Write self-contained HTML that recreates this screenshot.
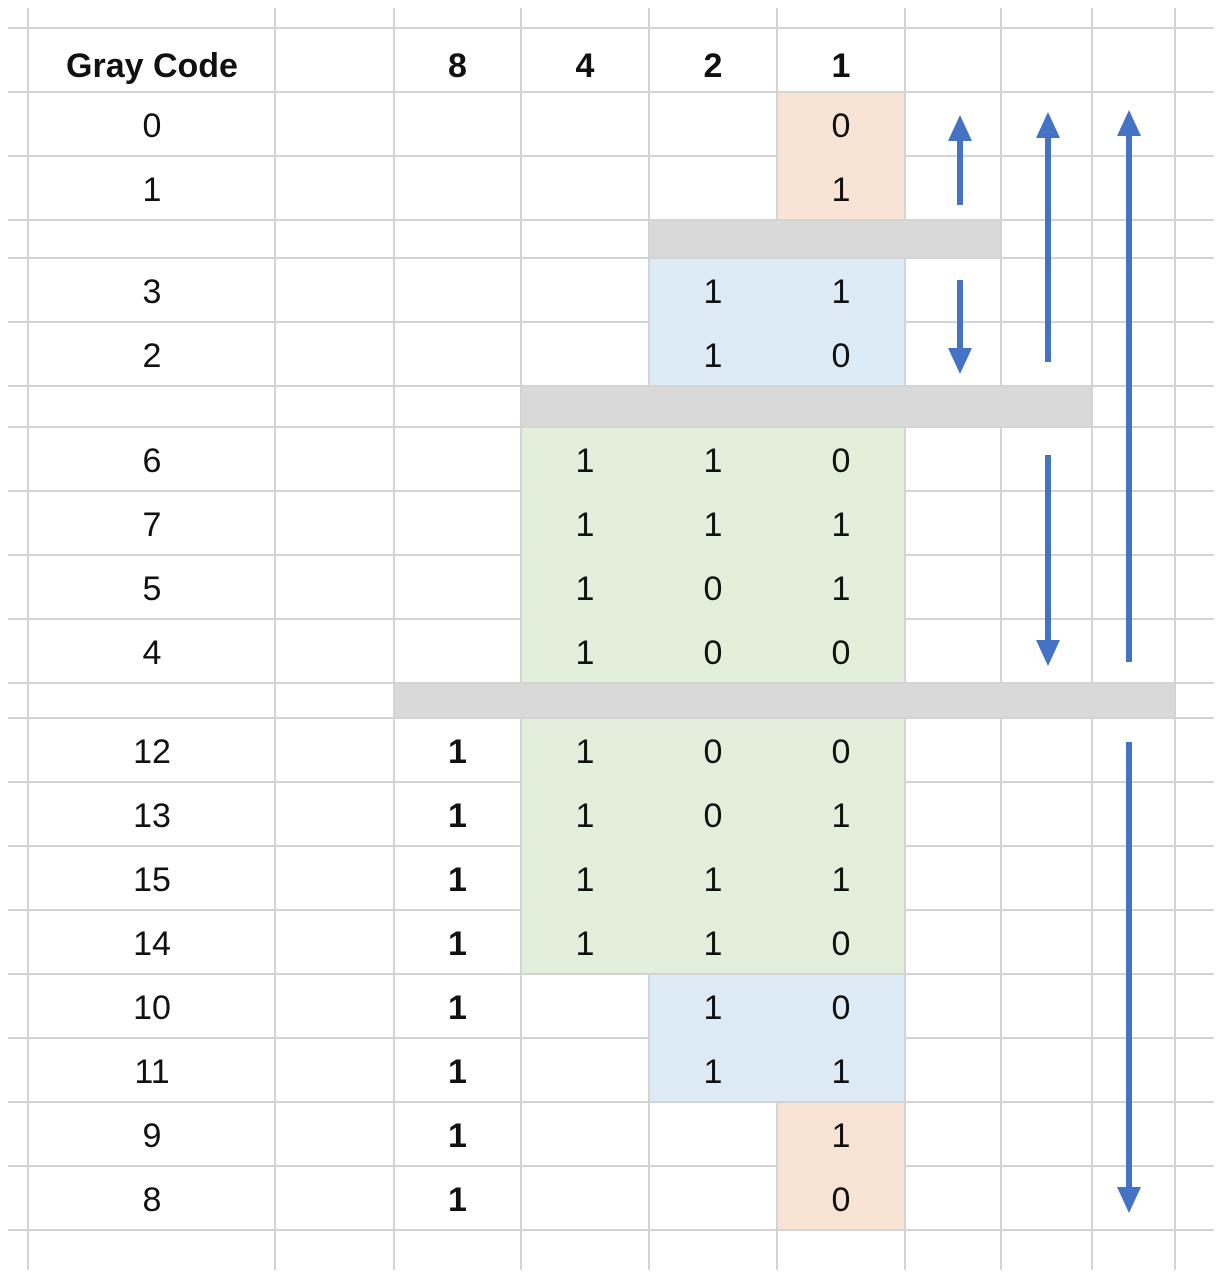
<!DOCTYPE html>
<html><head><meta charset="utf-8"><style>
html,body{margin:0;padding:0;background:#fff;}
svg{display:block;}
text{font-family:"Liberation Sans",sans-serif;font-size:34px;fill:#111;}
</style></head><body>
<svg id="s" width="1222" height="1276"></svg>
<script>
const colX=[28,275,394,521,649,777,905,1001,1092,1175,1222];
const rowY=[28,92,156,220,258,322,386,427,491,555,619,683,718,782,846,910,974,1038,1102,1166,1230];
const headers=["Gray Code","","8","4","2","1"];
const labels=["0","1",null,"3","2",null,"6","7","5","4",null,"12","13","15","14","10","11","9","8"];
const bit8=["","","","","","","","","","","","1","1","1","1","1","1","1","1"];
const bit4=["","","","","","","1","1","1","1","","1","1","1","1","","","",""];
const bit2=["","","","1","1","","1","1","0","0","","0","0","1","1","1","1","",""];
const bit1=["0","1","","1","0","","0","1","1","0","","0","1","1","0","0","1","1","0"];
const fills=[[5,6,1,3,"#f8e3d5"],[4,6,4,6,"#ddebf7"],[3,6,7,11,"#e2efda"],[3,6,12,16,"#e2efda"],[4,6,16,18,"#ddebf7"],[5,6,18,20,"#f8e3d5"],
 [4,7,3,4,"#d9d9d9"],[3,8,6,7,"#d9d9d9"],[2,9,11,12,"#d9d9d9"]];
const arrows=[[960,205,115],[960,280,374],[1048,362,112],[1048,455,666],[1129,662,110],[1129,742,1213]];
const NS="http://www.w3.org/2000/svg";
const s=document.getElementById('s');
function mk(t,a){const e=document.createElementNS(NS,t);for(const k in a)e.setAttribute(k,a[k]);s.appendChild(e);return e;}
fills.forEach(f=>{const e=mk('rect',{x:colX[f[0]],y:rowY[f[2]],width:colX[f[1]]-colX[f[0]],height:rowY[f[3]]-rowY[f[2]],fill:f[4]});

});
colX.slice(0,10).forEach(x=>{const e=mk('line',{x1:x,x2:x,y1:8,y2:1270,stroke:'#d4d4d4','stroke-width':2});

});
rowY.forEach(y=>{const e=mk('line',{x1:8,x2:1214,y1:y,y2:y,stroke:'#d4d4d4','stroke-width':2});

});
fills.forEach(f=>{const e=mk('rect',{x:colX[f[0]]+1,y:rowY[f[2]]+1,width:colX[f[1]]-colX[f[0]]-2,height:rowY[f[3]]-rowY[f[2]]-2,fill:f[4]});

});
function cx(c){return (colX[c]+colX[c+1])/2;}
headers.forEach((h,i)=>{if(!h)return;const t=mk('text',{x:i==0?152:cx(i),y:77,'text-anchor':'middle','font-weight':'bold','font-size':i==0?38:35});t.textContent=h;

});
const cols=[[labels,0],[bit8,2],[bit4,3],[bit2,4],[bit1,5]];
labels.forEach((l,r)=>{if(l===null)return;const y0=rowY[r+1],y1=rowY[r+2];const ty=(y0+y1)/2+13;
cols.forEach((c,k)=>{const v=c[0][r];if(!v)return;const t=mk('text',{x:k==0?152:cx(c[1]),y:ty,'text-anchor':'middle','font-weight':k==1?'bold':'normal'});t.textContent=v;

});});
arrows.forEach(a=>{const up=a[2]<a[1];const tip=a[2];const base=up?tip+26:tip-26;
const l=mk('line',{x1:a[0],x2:a[0],y1:a[1],y2:base,stroke:'#4472c4','stroke-width':6});


const p=mk('polygon',{points:`${a[0]-12},${base} ${a[0]+12},${base} ${a[0]},${tip}`,fill:'#4472c4'});

});
</script>
</body></html>
